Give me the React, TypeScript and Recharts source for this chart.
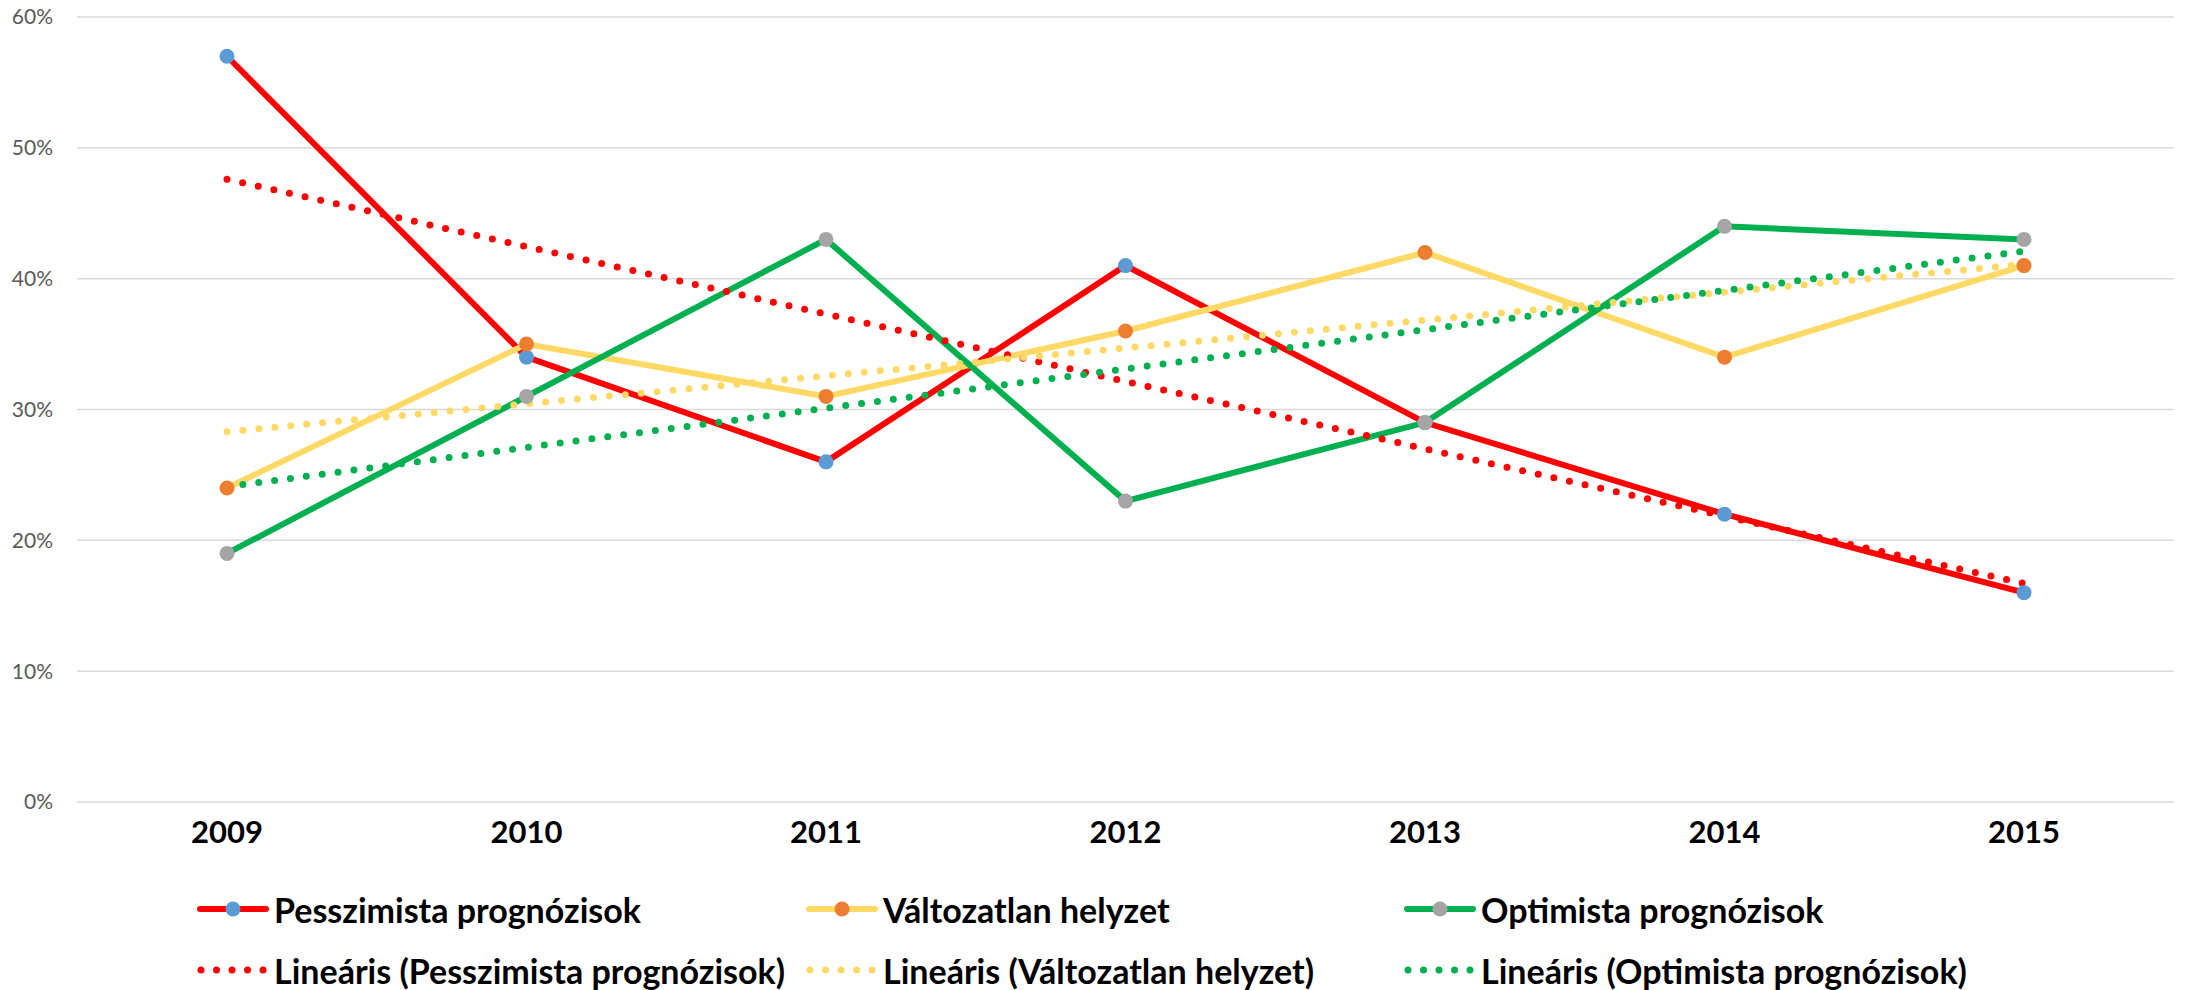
import { LineChart, Line, XAxis, YAxis, CartesianGrid, Legend } from 'recharts';

const years = ['2009', '2010', '2011', '2012', '2013', '2014', '2015'];
const pesszimista = [57, 34, 26, 41, 29, 22, 16];
const valtozatlan = [24, 35, 31, 36, 42, 34, 41];
const optimista = [19, 31, 43, 23, 29, 44, 43];
// trend line end points (middle left empty, joined straight)
const trendPesszimista = [47.6, null, null, null, null, null, 16.7];
const trendValtozatlan = [28.3, null, null, null, null, null, 41.1];
const trendOptimista = [24.1, null, null, null, null, null, 42.1];
const yTicks = [0, 10, 20, 30, 40, 50, 60];

const data = years.map((year, i) => ({
  year,
  pesszimista: pesszimista[i],
  valtozatlan: valtozatlan[i],
  optimista: optimista[i],
  tP: trendPesszimista[i],
  tV: trendValtozatlan[i],
  tO: trendOptimista[i],
}));

const FONT = 'Lato, "Open Sans", sans-serif';

const legendRows = [
  [
    { label: 'Pesszimista prognózisok', color: '#FF0000', marker: '#5B9BD5', dotted: false },
    { label: 'Változatlan helyzet', color: '#FFD966', marker: '#ED7D31', dotted: false },
    { label: 'Optimista prognózisok', color: '#00B050', marker: '#A5A5A5', dotted: false },
  ],
  [
    { label: 'Lineáris (Pesszimista prognózisok)', color: '#FF0000', marker: '', dotted: true },
    { label: 'Lineáris (Változatlan helyzet)', color: '#FFD966', marker: '', dotted: true },
    { label: 'Lineáris (Optimista prognózisok)', color: '#00B050', marker: '', dotted: true },
  ],
];
const colX = [197, 806, 1404];
const rowY = [47, 108];

const LegendSymbol = ({ color, marker, dotted }: { color: string; marker: string; dotted: boolean }) => (
  <svg width={72} height={16} style={{ display: 'block' }}>
    {dotted ? (
      [4, 19.5, 35, 50.5, 66].map((cx) => <circle key={cx} cx={cx} cy={8} r={3.5} fill={color} />)
    ) : (
      <>
        <line x1={3} y1={8} x2={69} y2={8} stroke={color} strokeWidth={6} strokeLinecap="round" />
        <circle cx={36} cy={8} r={7.5} fill={marker} />
      </>
    )}
  </svg>
);

const renderLegend = () => (
  <div style={{ position: 'relative', width: 2188, height: 128 }}>
    {legendRows.map((row, ri) =>
      row.map((item, ci) => (
        <div
          key={item.label}
          style={{
            position: 'absolute',
            left: colX[ci],
            top: rowY[ri] - 22,
            height: 44,
            display: 'flex',
            alignItems: 'center',
            whiteSpace: 'nowrap',
          }}
        >
          <LegendSymbol color={item.color} marker={item.marker} dotted={item.dotted} />
          <span style={{ marginLeft: 5, fontFamily: FONT, fontWeight: 700, fontSize: 34, color: '#000' }}>
            {item.label}
          </span>
        </div>
      ))
    )}
  </div>
);

const XTick = (props: any) => {
  const { x, y, payload } = props;
  return (
    <text x={x} y={y} dy={33} textAnchor="middle" fontFamily={FONT} fontWeight={700} fontSize={31} fill="#000">
      {payload.value}
    </text>
  );
};

export default function App() {
  return (
    <div style={{ position: 'absolute', left: 0, top: 0, background: '#fff' }}>
      <LineChart width={2188} height={990} data={data} margin={{ top: 17, right: 14, left: 0, bottom: 0 }}>
        <CartesianGrid vertical={false} stroke="#D9D9D9" strokeWidth={1.5} />
        <XAxis
          dataKey="year"
          axisLine={false}
          tickLine={false}
          height={60}
          padding={{ left: 150, right: 150 }}
          tick={<XTick />}
          interval={0}
        />
        <YAxis
          width={77}
          domain={[0, 60]}
          ticks={yTicks}
          axisLine={false}
          tickLine={false}
          tickMargin={18}
          tickFormatter={(v) => `${v}%`}
          tick={{ fontFamily: FONT, fontSize: 21, fill: '#595959' }}
        />
        <Legend verticalAlign="bottom" height={128} content={renderLegend} />
        <Line dataKey="pesszimista" stroke="#FF0000" strokeWidth={6} dot={{ r: 7.5, fill: '#5B9BD5', stroke: 'none' }} activeDot={false} isAnimationActive={false} />
        <Line dataKey="valtozatlan" stroke="#FFD966" strokeWidth={6} dot={{ r: 7.5, fill: '#ED7D31', stroke: 'none' }} activeDot={false} isAnimationActive={false} />
        <Line dataKey="optimista" stroke="#00B050" strokeWidth={6} dot={{ r: 7.5, fill: '#A5A5A5', stroke: 'none' }} activeDot={false} isAnimationActive={false} />
        <Line dataKey="tP" stroke="#FF0000" strokeWidth={7} strokeDasharray="0 16" strokeLinecap="round" dot={false} activeDot={false} connectNulls isAnimationActive={false} />
        <Line dataKey="tV" stroke="#FFD966" strokeWidth={7} strokeDasharray="0 16" strokeLinecap="round" dot={false} activeDot={false} connectNulls isAnimationActive={false} />
        <Line dataKey="tO" stroke="#00B050" strokeWidth={7} strokeDasharray="0 16" strokeLinecap="round" dot={false} activeDot={false} connectNulls isAnimationActive={false} />
      </LineChart>
    </div>
  );
}
